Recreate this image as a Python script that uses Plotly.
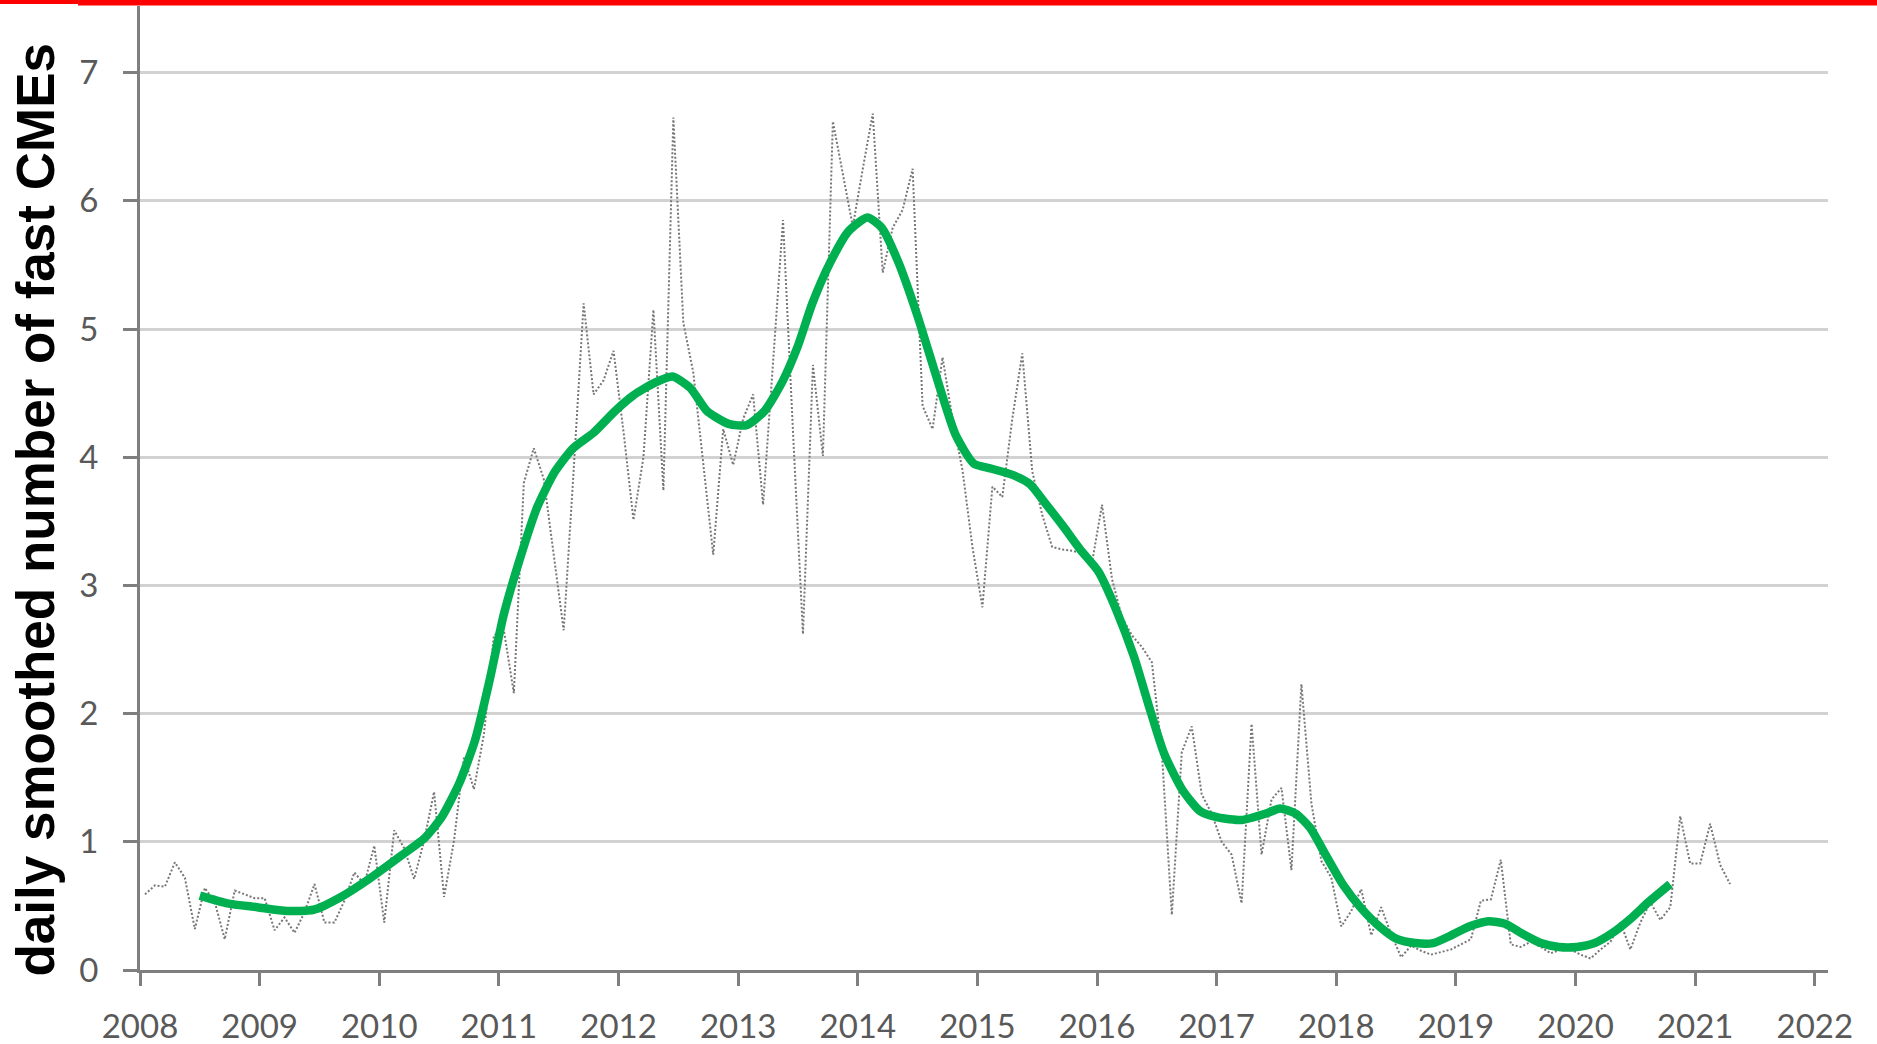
import numpy as np
import plotly.graph_objects as go

# monthly values of fast CMEs per day, Jan 2008 .. Apr 2021
cme_monthly = [
    0.59, 0.66, 0.65, 0.84, 0.72, 0.32, 0.64, 0.53, 0.24, 0.62, 0.59, 0.56,   # 2008
    0.56, 0.31, 0.41, 0.29, 0.45, 0.67, 0.37, 0.37, 0.54, 0.76, 0.67, 0.97,   # 2009
    0.37, 1.09, 0.95, 0.71, 1.01, 1.39, 0.57, 1.01, 1.66, 1.41, 1.84, 2.61,   # 2010
    2.65, 2.16, 3.80, 4.07, 3.83, 3.25, 2.65, 3.90, 5.20, 4.49, 4.60, 4.83,   # 2011
    4.20, 3.51, 4.00, 5.15, 3.74, 6.65, 5.05, 4.66, 3.95, 3.24, 4.22, 3.94,   # 2012
    4.30, 4.49, 3.63, 4.70, 5.85, 4.20, 2.62, 4.72, 4.01, 6.62, 6.20, 5.80,   # 2013
    6.25, 6.68, 5.44, 5.79, 5.93, 6.25, 4.40, 4.22, 4.78, 4.30, 3.90, 3.30,   # 2014
    2.83, 3.77, 3.69, 4.30, 4.81, 3.89, 3.55, 3.30, 3.28, 3.27, 3.25, 3.18,   # 2015
    3.63, 3.05, 2.75, 2.61, 2.52, 2.40, 1.70, 0.43, 1.70, 1.90, 1.37, 1.22,   # 2016
    1.00, 0.90, 0.52, 1.92, 0.90, 1.33, 1.42, 0.78, 2.23, 1.30, 0.85, 0.72,   # 2017
    0.34, 0.46, 0.63, 0.27, 0.49, 0.28, 0.10, 0.19, 0.15, 0.12, 0.14, 0.16,   # 2018
    0.20, 0.24, 0.54, 0.55, 0.86, 0.20, 0.18, 0.22, 0.18, 0.13, 0.16, 0.16,   # 2019
    0.12, 0.09, 0.16, 0.22, 0.37, 0.16, 0.37, 0.53, 0.39, 0.49, 1.20, 0.83,   # 2020
    0.83, 1.14, 0.82, 0.67,                                                   # 2021
]
month_mid = 2008 + (np.arange(len(cme_monthly)) + 0.5) / 12

# smoothed curve
smooth_year = [
    2008.50, 2008.73, 2008.98, 2009.23, 2009.45, 2009.68, 2009.93, 2010.18, 2010.38,
    2010.52, 2010.67, 2010.80, 2010.92, 2011.04, 2011.17, 2011.32, 2011.47, 2011.62,
    2011.79, 2011.97, 2012.12, 2012.30, 2012.45, 2012.60, 2012.74, 2012.92, 2013.07,
    2013.22, 2013.37, 2013.50, 2013.62, 2013.77, 2013.92, 2014.08, 2014.20, 2014.34,
    2014.50, 2014.67, 2014.82, 2014.97, 2015.12, 2015.30, 2015.44, 2015.56, 2015.71,
    2015.86, 2016.01, 2016.16, 2016.31, 2016.43, 2016.56, 2016.71, 2016.86, 2017.01,
    2017.21, 2017.41, 2017.53, 2017.66, 2017.78, 2017.91, 2018.06, 2018.21, 2018.36,
    2018.51, 2018.66, 2018.81, 2018.96, 2019.11, 2019.27, 2019.41, 2019.56, 2019.71,
    2019.86, 2020.01, 2020.16, 2020.31, 2020.46, 2020.61, 2020.79,
]
smooth_value = [
    0.58, 0.52, 0.49, 0.46, 0.47, 0.57, 0.72, 0.89, 1.03,
    1.19, 1.46, 1.79, 2.25, 2.77, 3.19, 3.61, 3.89, 4.07,
    4.19, 4.36, 4.48, 4.58, 4.63, 4.54, 4.36, 4.26, 4.25,
    4.36, 4.59, 4.87, 5.20, 5.52, 5.76, 5.87, 5.79, 5.52,
    5.10, 4.59, 4.17, 3.95, 3.91, 3.86, 3.79, 3.65, 3.47,
    3.28, 3.11, 2.81, 2.44, 2.07, 1.69, 1.41, 1.24, 1.19,
    1.17, 1.22, 1.26, 1.22, 1.11, 0.90, 0.66, 0.48, 0.34,
    0.24, 0.21, 0.21, 0.27, 0.34, 0.38, 0.36, 0.28, 0.21,
    0.18, 0.18, 0.21, 0.29, 0.40, 0.53, 0.67,
]

year_ticks = list(range(2008, 2023))
value_ticks = list(range(0, 8))

fig = go.Figure()
fig.add_scatter(x=month_mid, y=cme_monthly, mode='lines',
                line=dict(color='#777777', width=2, dash='2px,2px'))
fig.add_scatter(x=smooth_year, y=smooth_value, mode='lines',
                line=dict(color='#00b050', width=8.5, shape='spline', smoothing=0.6))

tickfont = dict(family='Lato', size=33, color='#595959')
fig.update_xaxes(range=[2008, 2022.11], tickvals=year_ticks, showgrid=False, zeroline=False,
                 showline=True, linecolor='#7f7f7f', linewidth=3, automargin=False,
                 ticks='outside', ticklen=13, tickwidth=3, tickcolor='#7f7f7f',
                 tickfont=tickfont, ticklabelstandoff=12)
fig.update_yaxes(range=[0, 7.52], tickvals=value_ticks, showgrid=True, gridcolor='#d2d2d2', gridwidth=2.5,
                 zeroline=False, showline=True, linecolor='#7f7f7f', linewidth=3, automargin=False,
                 ticks='outside', ticklen=14, tickwidth=3, tickcolor='#7f7f7f',
                 tickfont=tickfont, ticklabelstandoff=18)

fig.add_annotation(text='<b>daily smoothed number of fast CMEs</b>', textangle=-90,
                   xref='paper', yref='paper', x=-0.062, y=0.478, xanchor='center', yanchor='middle',
                   showarrow=False, font=dict(family='Liberation Sans', size=53, color='black'))

# red band along the top edge
fig.add_shape(type='rect', xref='paper', yref='paper', x0=-0.083, x1=-0.0367, y0=1.0020, y1=1.0065,
              fillcolor='red', line_width=0, layer='above')
fig.add_shape(type='rect', xref='paper', yref='paper', x0=-0.0367, x1=1.03, y0=1.0005, y1=1.0065,
              fillcolor='red', line_width=0, layer='above')

fig.update_layout(width=1877, height=1044, showlegend=False,
                  plot_bgcolor='white', paper_bgcolor='white',
                  margin=dict(l=140, r=49, t=6, b=74))
fig.write_html('out.html', config={'displayModeBar': False},
               post_script="document.body.style.margin='0';")
